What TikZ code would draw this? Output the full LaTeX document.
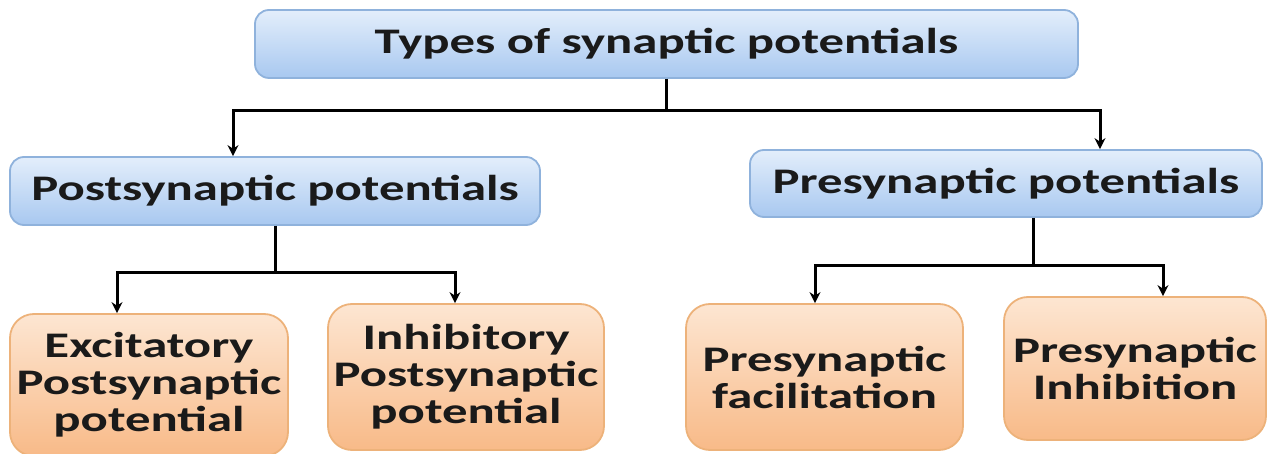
\documentclass[tikz,border=0pt]{standalone}
\usepackage{fontspec}
\setmainfont[FakeStretch=1.41]{Carlito}
\usetikzlibrary{arrows.meta}
\definecolor{bluetop}{HTML}{E3EEFB}
\definecolor{bluebot}{HTML}{A8C8F0}
\definecolor{blueedge}{HTML}{8FB2DC}
\definecolor{orgtop}{HTML}{FDE6D2}
\definecolor{orgbot}{HTML}{F8BA88}
\definecolor{orgedge}{HTML}{EDB27A}
\definecolor{txt}{HTML}{1A1A1A}
\begin{document}
\begin{tikzpicture}[x=1pt,y=-1pt,
  bluebox/.style={draw=blueedge,line width=1.8pt,rounded corners=14pt,top color=bluetop,bottom color=bluebot,
    text=txt,font=\fontsize{36}{38}\selectfont\bfseries,inner sep=0pt},
  orgbox/.style={draw=orgedge,line width=1.8pt,rounded corners=24pt,top color=orgtop,bottom color=orgbot,
    text=txt,font=\fontsize{36}{37}\selectfont\bfseries,align=center,inner sep=0pt},
  arr/.style={line width=3pt,-{Stealth[length=11pt,width=11pt]}}]
\useasboundingbox (0,0) rectangle (1270,454);
\node[bluebox,minimum width=823pt,minimum height=68pt] (top) at (666.5,44) {Types of synaptic potentials};
\node[bluebox,minimum width=530pt,minimum height=68pt] (post) at (275,191) {Postsynaptic potentials};
\node[bluebox,minimum width=512pt,minimum height=67pt] (pre) at (1006,183.5) {Presynaptic potentials};
\node[orgbox,minimum width=278pt,minimum height=142pt] (exc) at (149,385) {Excitatory\\Postsynaptic\\potential};
\node[orgbox,minimum width=276pt,minimum height=146pt] (inh) at (466,377) {Inhibitory\\Postsynaptic\\potential};
\node[orgbox,minimum width=277pt,minimum height=146pt] (fac) at (824.5,377) {Presynaptic\\facilitation};
\node[orgbox,minimum width=262pt,minimum height=143pt] (pin) at (1135,368.5) {Presynaptic\\Inhibition};
\draw[arr] (top.south) -- ++(0,32) -| ([xshift=-42pt]post.north);
\draw[arr] (top.south) -- ++(0,32) -| ([xshift=94pt]pre.north);
\draw[arr] (post.south) -- ++(0,47) -| ([xshift=-32pt]exc.north);
\draw[arr] (post.south) -- ++(0,47) -| ([xshift=-11pt]inh.north);
\draw[arr] ([xshift=27pt]pre.south) -- ++(0,48) -| ([xshift=-9.5pt]fac.north);
\draw[arr] ([xshift=27pt]pre.south) -- ++(0,48) -| ([xshift=28pt]pin.north);
\end{tikzpicture}
\end{document}
